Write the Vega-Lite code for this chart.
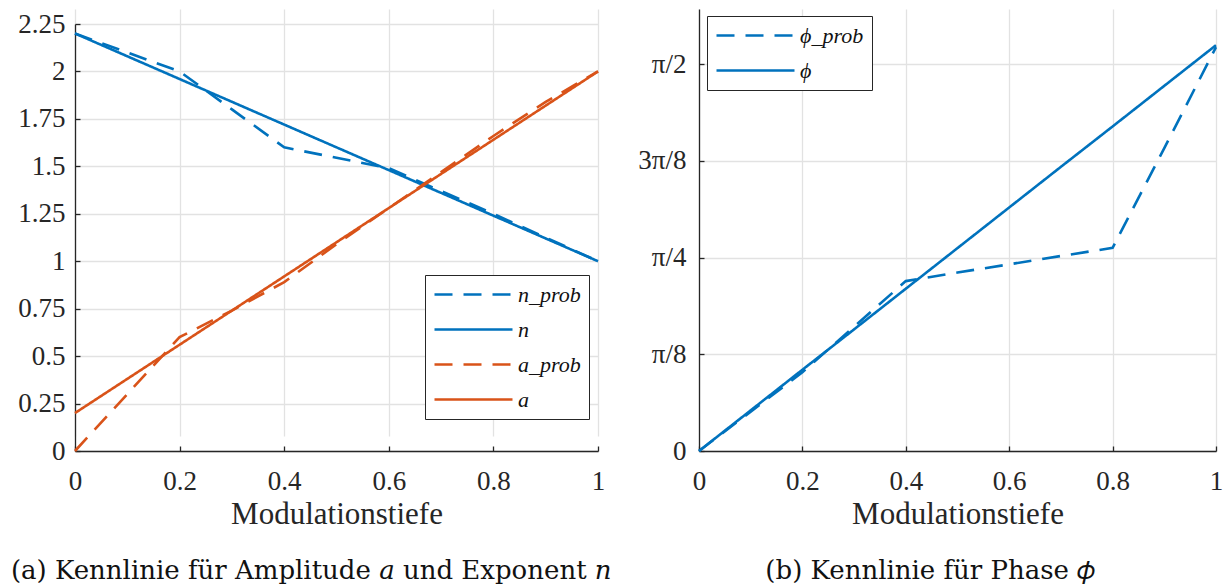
{
  "$schema": "https://vega.github.io/schema/vega-lite/v6.json",
  "padding": {"left": 10, "top": 9, "right": 4, "bottom": 2},
  "bounds": "flush",
  "spacing": 101,
  "config": {
    "view": {"stroke": null},
    "font": "Liberation Serif",
    "axis": {
      "labelFont": "Liberation Serif",
      "labelFontSize": 27,
      "labelColor": "#262626",
      "titleFont": "Liberation Serif",
      "titleFontSize": 31,
      "titleFontWeight": "normal",
      "titleColor": "#262626",
      "titlePadding": 5,
      "domainColor": "#262626",
      "domainWidth": 1.3,
      "tickColor": "#262626",
      "tickWidth": 1.3,
      "tickSize": -5,
      "gridColor": "#e2e2e2",
      "gridWidth": 1.3,
      "labelFlush": false,
      "labelOverlap": false
    },
    "axisX": {"labelPadding": 22},
    "axisY": {"labelPadding": 15},
    "legend": {
      "labelFont": "Liberation Serif",
      "labelFontStyle": "italic",
      "labelFontSize": 22,
      "labelColor": "#111111",
      "labelLimit": 300,
      "strokeColor": "#262626",
      "fillColor": "#ffffff",
      "padding": 8,
      "rowPadding": 12,
      "cornerRadius": 0
    },
    "title": {
      "font": "DejaVu Serif",
      "fontSize": 26,
      "fontWeight": "normal",
      "color": "#111111",
      "orient": "bottom",
      "frame": "bounds",
      "anchor": "middle",
      "offset": 29
    }
  },
  "resolve": {
    "scale": {"color": "independent", "strokeDash": "independent"},
    "legend": {"color": "independent", "strokeDash": "independent"}
  },
  "hconcat": [
    {
      "width": 523,
      "height": 442,
      "title": {"text": "(a) Kennlinie für Amplitude 𝑎 und Exponent 𝑛"},
      "data": {
        "values": [
          {"m": 0.0, "val": 2.2, "series": "n_prob"},
          {"m": 0.1, "val": 2.1, "series": "n_prob"},
          {"m": 0.2, "val": 2.0, "series": "n_prob"},
          {"m": 0.3, "val": 1.8, "series": "n_prob"},
          {"m": 0.4, "val": 1.6, "series": "n_prob"},
          {"m": 0.5, "val": 1.545, "series": "n_prob"},
          {"m": 0.6, "val": 1.49, "series": "n_prob"},
          {"m": 0.7, "val": 1.37, "series": "n_prob"},
          {"m": 0.8, "val": 1.25, "series": "n_prob"},
          {"m": 0.9, "val": 1.125, "series": "n_prob"},
          {"m": 1.0, "val": 1.0, "series": "n_prob"},
          {"m": 0.0, "val": 2.2, "series": "n"},
          {"m": 0.1, "val": 2.08, "series": "n"},
          {"m": 0.2, "val": 1.96, "series": "n"},
          {"m": 0.3, "val": 1.84, "series": "n"},
          {"m": 0.4, "val": 1.72, "series": "n"},
          {"m": 0.5, "val": 1.6, "series": "n"},
          {"m": 0.6, "val": 1.48, "series": "n"},
          {"m": 0.7, "val": 1.36, "series": "n"},
          {"m": 0.8, "val": 1.24, "series": "n"},
          {"m": 0.9, "val": 1.12, "series": "n"},
          {"m": 1.0, "val": 1.0, "series": "n"},
          {"m": 0.0, "val": 0.0, "series": "a_prob"},
          {"m": 0.1, "val": 0.3, "series": "a_prob"},
          {"m": 0.2, "val": 0.6, "series": "a_prob"},
          {"m": 0.3, "val": 0.74, "series": "a_prob"},
          {"m": 0.4, "val": 0.89, "series": "a_prob"},
          {"m": 0.5, "val": 1.09, "series": "a_prob"},
          {"m": 0.6, "val": 1.28, "series": "a_prob"},
          {"m": 0.7, "val": 1.47, "series": "a_prob"},
          {"m": 0.8, "val": 1.66, "series": "a_prob"},
          {"m": 0.9, "val": 1.84, "series": "a_prob"},
          {"m": 1.0, "val": 2.0, "series": "a_prob"},
          {"m": 0.0, "val": 0.2, "series": "a"},
          {"m": 0.1, "val": 0.38, "series": "a"},
          {"m": 0.2, "val": 0.56, "series": "a"},
          {"m": 0.3, "val": 0.74, "series": "a"},
          {"m": 0.4, "val": 0.92, "series": "a"},
          {"m": 0.5, "val": 1.1, "series": "a"},
          {"m": 0.6, "val": 1.28, "series": "a"},
          {"m": 0.7, "val": 1.46, "series": "a"},
          {"m": 0.8, "val": 1.64, "series": "a"},
          {"m": 0.9, "val": 1.82, "series": "a"},
          {"m": 1.0, "val": 2.0, "series": "a"}
        ]
      },
      "mark": {"type": "line", "strokeWidth": 2.6},
      "encoding": {
        "x": {
          "field": "m", "type": "quantitative",
          "scale": {"domain": [0, 1], "nice": false},
          "axis": {"values": [0, 0.2, 0.4, 0.6, 0.8, 1], "format": ".2~g", "title": "Modulationstiefe"}
        },
        "y": {
          "field": "val", "type": "quantitative",
          "scale": {"domain": [0, 2.25], "range": [442, 15], "nice": false, "zero": false},
          "axis": {"values": [0, 0.25, 0.5, 0.75, 1, 1.25, 1.5, 1.75, 2, 2.25], "format": ".3~g", "title": null}
        },
        "color": {
          "field": "series", "type": "nominal",
          "scale": {"domain": ["n_prob", "n", "a_prob", "a"], "range": ["#0072BD", "#0072BD", "#D95319", "#D95319"]},
          "legend": {"orient": "none", "legendX": 350, "legendY": 266, "title": null, "symbolType": "M-1,0H6.8", "symbolSize": 400, "symbolStrokeWidth": 2.6, "labelOffset": 62}
        },
        "strokeDash": {
          "field": "series", "type": "nominal",
          "scale": {"domain": ["n_prob", "n", "a_prob", "a"], "range": [[18, 11], [1, 0], [18, 11], [1, 0]]},
          "legend": {"orient": "none", "legendX": 350, "legendY": 266, "title": null, "symbolType": "M-1,0H6.8", "symbolSize": 400, "symbolStrokeWidth": 2.6, "labelOffset": 62}
        }
      }
    },
    {
      "width": 517,
      "height": 442,
      "title": {"text": "(b) Kennlinie für Phase 𝜙"},
      "data": {
        "values": [
          {"m": 0.0, "val": 0.0, "series": "ϕ_prob"},
          {"m": 0.1, "val": 0.16, "series": "ϕ_prob"},
          {"m": 0.2, "val": 0.32, "series": "ϕ_prob"},
          {"m": 0.3, "val": 0.505, "series": "ϕ_prob"},
          {"m": 0.4, "val": 0.69, "series": "ϕ_prob"},
          {"m": 0.5, "val": 0.725, "series": "ϕ_prob"},
          {"m": 0.6, "val": 0.758, "series": "ϕ_prob"},
          {"m": 0.7, "val": 0.792, "series": "ϕ_prob"},
          {"m": 0.8, "val": 0.825, "series": "ϕ_prob"},
          {"m": 0.9, "val": 1.23, "series": "ϕ_prob"},
          {"m": 1.0, "val": 1.64, "series": "ϕ_prob"},
          {"m": 0.0, "val": 0.0, "series": "ϕ"},
          {"m": 0.1, "val": 0.165, "series": "ϕ"},
          {"m": 0.2, "val": 0.33, "series": "ϕ"},
          {"m": 0.3, "val": 0.494, "series": "ϕ"},
          {"m": 0.4, "val": 0.659, "series": "ϕ"},
          {"m": 0.5, "val": 0.824, "series": "ϕ"},
          {"m": 0.6, "val": 0.989, "series": "ϕ"},
          {"m": 0.7, "val": 1.154, "series": "ϕ"},
          {"m": 0.8, "val": 1.318, "series": "ϕ"},
          {"m": 0.9, "val": 1.483, "series": "ϕ"},
          {"m": 1.0, "val": 1.648, "series": "ϕ"}
        ]
      },
      "mark": {"type": "line", "strokeWidth": 2.6},
      "encoding": {
        "x": {
          "field": "m", "type": "quantitative",
          "scale": {"domain": [0, 1], "nice": false},
          "axis": {"values": [0, 0.2, 0.4, 0.6, 0.8, 1], "format": ".2~g", "title": "Modulationstiefe"}
        },
        "y": {
          "field": "val", "type": "quantitative",
          "scale": {"domain": [0, 1.795], "nice": false},
          "axis": {
            "values": [0, 0.392699, 0.785398, 1.178097, 1.570796],
            "labelExpr": "datum.value < 0.1 ? '0' : datum.value < 0.5 ? 'π/8' : datum.value < 0.9 ? 'π/4' : datum.value < 1.3 ? '3π/8' : 'π/2'",
            "labelPadding": 18,
            "title": null
          }
        },
        "color": {
          "field": "series", "type": "nominal",
          "scale": {"domain": ["ϕ_prob", "ϕ"], "range": ["#0072BD", "#0072BD"]},
          "legend": {"orient": "none", "legendX": 8, "legendY": 7, "title": null, "symbolType": "M-1,0H6.8", "symbolSize": 400, "symbolStrokeWidth": 2.6, "labelOffset": 62}
        },
        "strokeDash": {
          "field": "series", "type": "nominal",
          "scale": {"domain": ["ϕ_prob", "ϕ"], "range": [[18, 11], [1, 0]]},
          "legend": {"orient": "none", "legendX": 8, "legendY": 7, "title": null, "symbolType": "M-1,0H6.8", "symbolSize": 400, "symbolStrokeWidth": 2.6, "labelOffset": 62}
        }
      }
    }
  ]
}
